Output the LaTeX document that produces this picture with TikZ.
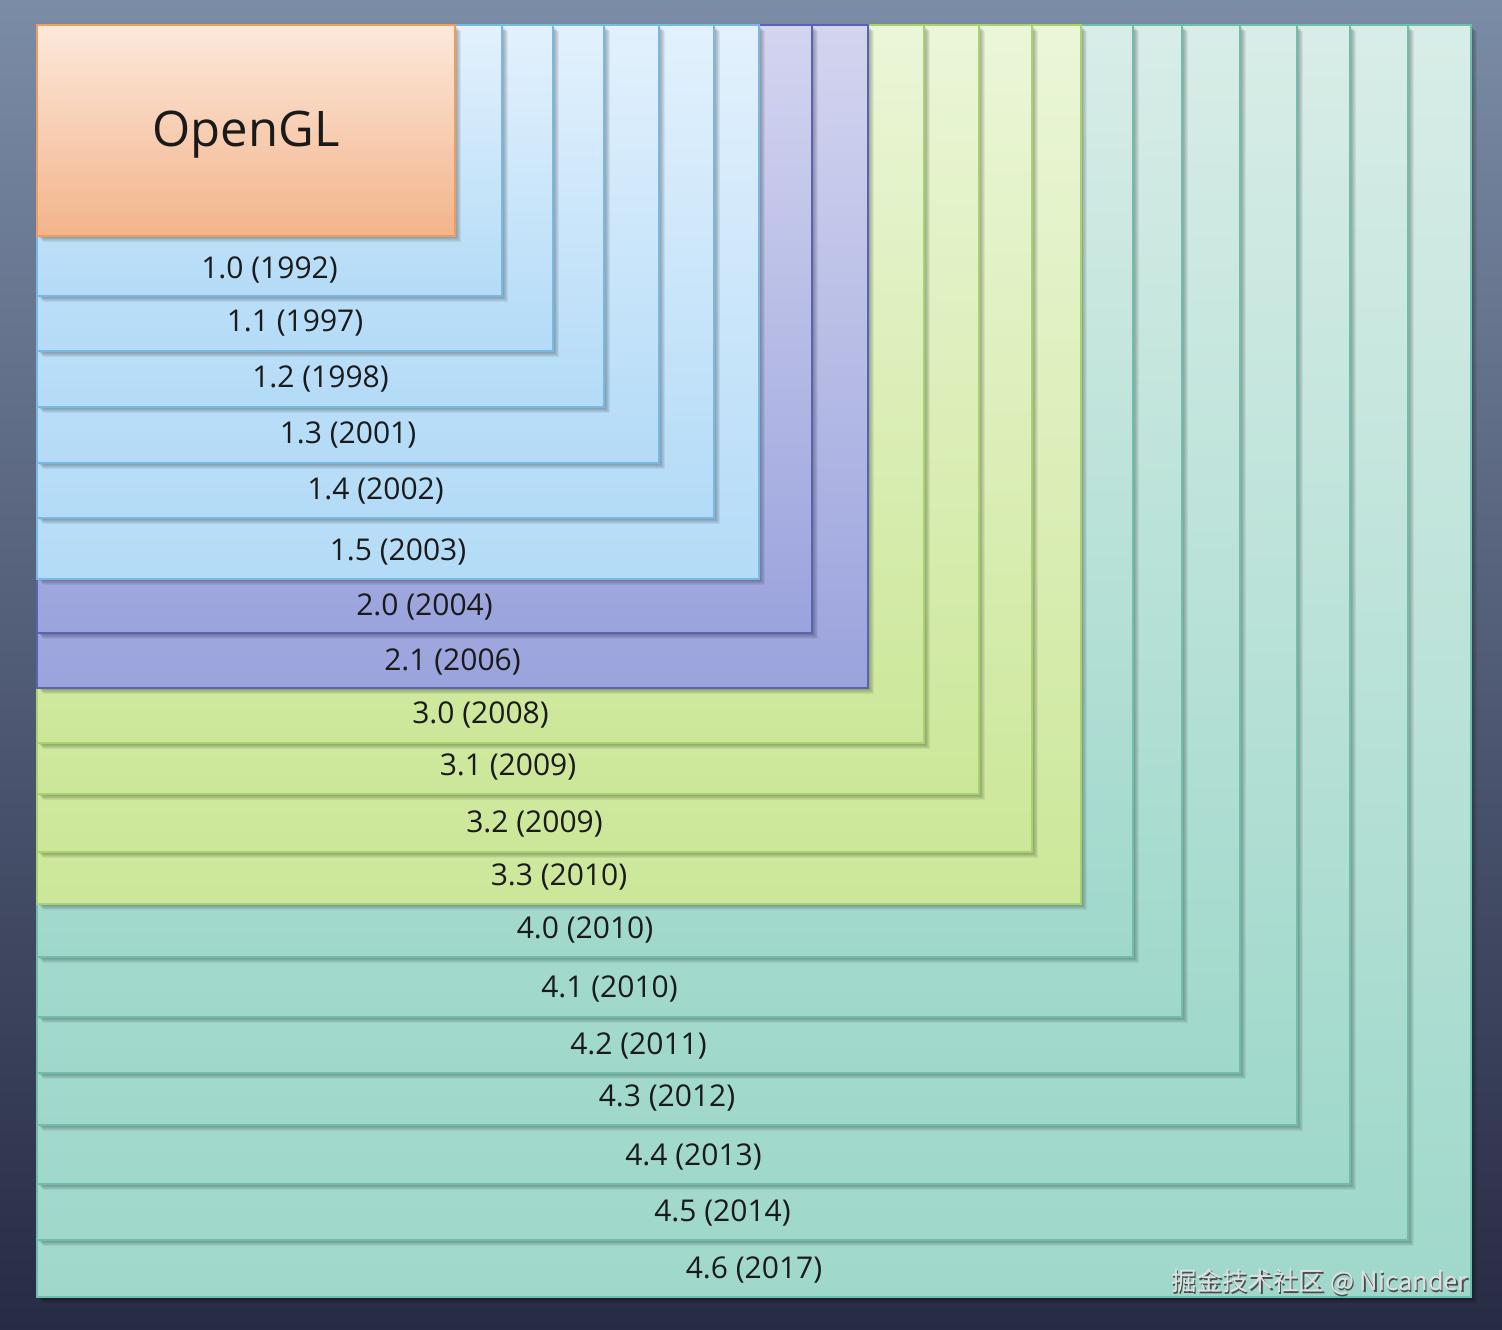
\documentclass[tikz,border=0pt]{standalone}
\usepackage{fontspec}
\setmainfont{Open Sans}
\newfontfamily\cjkfont{Noto Sans CJK SC}
\definecolor{bgT}{HTML}{7B8CA6}
\definecolor{bgB}{HTML}{272B44}
\definecolor{blT}{HTML}{E3F1FD}
\definecolor{blB}{HTML}{B3DBF7}
\definecolor{blD}{HTML}{78B9E2}
\definecolor{puT}{HTML}{D3D5EF}
\definecolor{puB}{HTML}{9BA3DD}
\definecolor{puD}{HTML}{5A63B3}
\definecolor{grT}{HTML}{EBF6D8}
\definecolor{grB}{HTML}{CCE799}
\definecolor{grD}{HTML}{A6D36A}
\definecolor{tlT}{HTML}{D8EDE7}
\definecolor{tlB}{HTML}{9FD8CB}
\definecolor{tlD}{HTML}{6EBDAD}
\definecolor{orT}{HTML}{FCE8DB}
\definecolor{orB}{HTML}{F3B48A}
\definecolor{orD}{HTML}{EE9E5C}
\definecolor{txt}{HTML}{1A1A1A}
\tikzset{
  lbl/.style={text=txt, inner sep=0pt, font=\fontsize{30}{35}\selectfont},
  title/.style={text=txt, inner sep=0pt, font=\fontsize{49}{58}\selectfont},
  mark/.style={text=#1, inner sep=0pt, font=\cjkfont\fontsize{25.5}{30}\selectfont},
}
\newcommand\verlayer[6]{%
  \foreach \k in {1,...,6}{\fill[black, opacity=0.06] (37+\k,25+\k) rectangle (#2+\k,#3+\k);}
  \draw[draw=#5D, line width=2pt, top color=#5T, bottom color=#5B] (37,25) rectangle (#2,#3);
  \node[lbl] (#1) at ({(37+#2)/2},#4+2) {#6};
}
\begin{document}
\begin{tikzpicture}[x=1pt,y=-1pt]
\useasboundingbox (0,0) rectangle (1502,1330);
\shade[top color=bgT, bottom color=bgB] (0,0) rectangle (1502,1330);
\verlayer{v46}{1471}{1297}{1268}{tl}{4.6 (2017)}
\verlayer{v45}{1408}{1240}{1211}{tl}{4.5 (2014)}
\verlayer{v44}{1350}{1184}{1155}{tl}{4.4 (2013)}
\verlayer{v43}{1297}{1125}{1096}{tl}{4.3 (2012)}
\verlayer{v42}{1240}{1073}{1044}{tl}{4.2 (2011)}
\verlayer{v41}{1182}{1017}{987}{tl}{4.1 (2010)}
\verlayer{v40}{1133}{957}{928}{tl}{4.0 (2010)}
\verlayer{v33}{1081}{904}{875}{gr}{3.3 (2010)}
\verlayer{v32}{1032}{852}{822}{gr}{3.2 (2009)}
\verlayer{v31}{979}{794}{765}{gr}{3.1 (2009)}
\verlayer{v30}{924}{743}{713}{gr}{3.0 (2008)}
\verlayer{v21}{868}{688}{660}{pu}{2.1 (2006)}
\verlayer{v20}{812}{633}{605}{pu}{2.0 (2004)}
\verlayer{v15}{759}{579}{550}{bl}{1.5 (2003)}
\verlayer{v14}{714}{518}{489}{bl}{1.4 (2002)}
\verlayer{v13}{659}{463}{433}{bl}{1.3 (2001)}
\verlayer{v12}{604}{407}{377}{bl}{1.2 (1998)}
\verlayer{v11}{553}{351}{321}{bl}{1.1 (1997)}
\verlayer{v10}{502}{296}{268}{bl}{1.0 (1992)}
\foreach \k in {1,...,6}{\fill[black, opacity=0.06] (37+\k,25+\k) rectangle (455+\k,236+\k);}
\draw[draw=orD, line width=2pt, top color=orT, bottom color=orB] (37,25) rectangle (455,236);
\node[title] (ogl) at (246,135) {OpenGL};
\node[mark=black!70, anchor=east] (wms) at (1469.5,1283.5) {掘金技术社区 @ Nicander};
\node[mark=white!88!black, anchor=east] (wm) at (1468,1282) {掘金技术社区 @ Nicander};
\end{tikzpicture}
\end{document}
